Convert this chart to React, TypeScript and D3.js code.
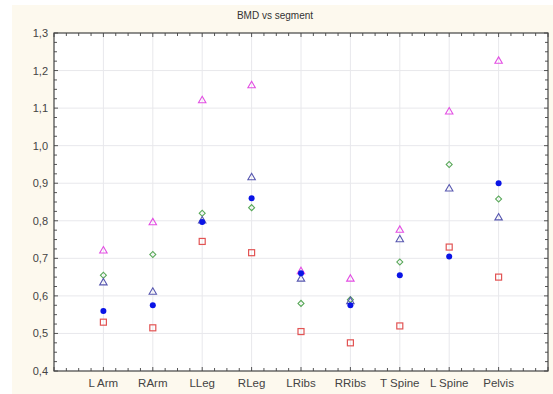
import React from "react";
import * as d3 from "d3";

const segments = ["L Arm", "RArm", "LLeg", "RLeg", "LRibs", "RRibs", "T Spine", "L Spine", "Pelvis"];
const magentaTri = [0.72, 0.795, 1.12, 1.16, 0.665, 0.645, 0.775, 1.09, 1.225];
const greenDiamond = [0.655, 0.71, 0.82, 0.835, 0.58, 0.59, 0.69, 0.95, 0.858];
const navyTri = [0.635, 0.61, 0.8, 0.915, 0.645, 0.585, 0.75, 0.885, 0.808];
const blueDot = [0.56, 0.575, 0.797, 0.86, 0.66, 0.575, 0.655, 0.705, 0.9];
const redSquare = [0.53, 0.515, 0.745, 0.715, 0.505, 0.475, 0.52, 0.73, 0.65];
const yTicks = [0.4, 0.5, 0.6, 0.7, 0.8, 0.9, 1.0, 1.1, 1.2, 1.3];

const W = 553, H = 394;
const left = 54, right = 548, top = 33, bottom = 371;

export default function App() {
  const x = d3.scaleLinear().domain([0, segments.length + 1]).range([left, right]);
  const y = d3.scaleLinear().domain([0.4, 1.3]).range([bottom, top]);
  const fmt = (v: number) => v.toFixed(1).replace(".", ",");

  const minorX = d3.range(0, (segments.length + 1) * 4 + 1).map((i) => i / 4);
  const minorY = d3.range(0, 37).map((i) => 0.4 + i * 0.025);

  const tri = d3.symbol().type(d3.symbolTriangle).size(24);
  // diamond drawn as a square turned 45 degrees
  const dia = d3.symbol().type(d3.symbolSquare).size(18);

  const series = [
    { vals: magentaTri, kind: "tri", color: "#e34fe3" },
    { vals: greenDiamond, kind: "dia", color: "#5aa95a" },
    { vals: navyTri, kind: "tri", color: "#5858b0" },
    { vals: redSquare, kind: "sq", color: "#e25454" },
    { vals: blueDot, kind: "dot", color: "#0a14e6" },
  ];

  return (
    <svg width={W} height={H} style={{ position: "absolute", left: 0, top: 0 }}>
      <rect x={0} y={0} width={W} height={H} fill="#ffffff" />
      <rect x={12} y={5} width={W - 12} height={H - 5} fill="#fdf9ee" />
      <text x={275} y={19} textAnchor="middle" fontFamily="Liberation Sans, Arial" fontSize={10} fill="#333">
        BMD vs segment
      </text>
      <rect x={left} y={top} width={right - left} height={bottom - top} fill="#ffffff" />
      {yTicks.slice(1, -1).map((t) => (
        <line key={"gy" + t} x1={left} x2={right} y1={y(t)} y2={y(t)} stroke="#e8e8ec" />
      ))}
      {segments.map((s, i) => (
        <line key={"gx" + s} x1={x(i + 1)} x2={x(i + 1)} y1={top} y2={bottom} stroke="#e8e8ec" />
      ))}
      {minorX.map((v) => {
        const len = v % 1 === 0 ? 4 : 3;
        return (
          <g key={"mx" + v}>
            <line x1={x(v)} x2={x(v)} y1={top} y2={top + len} stroke="#555" />
            <line x1={x(v)} x2={x(v)} y1={bottom} y2={bottom - len} stroke="#555" />
          </g>
        );
      })}
      {minorY.map((v, i) => {
        const len = i % 4 === 0 ? 4 : 3;
        return (
          <g key={"my" + i}>
            <line x1={left} x2={left + len} y1={y(v)} y2={y(v)} stroke="#555" />
            <line x1={right} x2={right - len} y1={y(v)} y2={y(v)} stroke="#555" />
          </g>
        );
      })}
      <rect x={left} y={top} width={right - left} height={bottom - top} fill="none" stroke="#444" strokeWidth={1.2} />
      {yTicks.map((t) => (
        <text key={"ty" + t} x={left - 6} y={y(t) + 4} textAnchor="end" fontFamily="Liberation Sans, Arial" fontSize={11} fill="#444">
          {fmt(t)}
        </text>
      ))}
      {segments.map((s, i) => (
        <text key={"tx" + s} x={x(i + 1)} y={387} textAnchor="middle" fontFamily="Liberation Sans, Arial" fontSize={11.5} fill="#444">
          {s}
        </text>
      ))}
      {series.map((sr, si) =>
        sr.vals.map((v, i) => {
          const cx = x(i + 1), cy = y(v);
          if (sr.kind === "dot")
            return <circle key={si + "-" + i} cx={cx} cy={cy} r={3} fill={sr.color} />;
          if (sr.kind === "sq")
            return <rect key={si + "-" + i} x={cx - 3} y={cy - 3} width={6} height={6} fill="none" stroke={sr.color} strokeWidth={1.2} />;
          const p = sr.kind === "tri" ? tri() : dia();
          const rot = sr.kind === "dia" ? " rotate(45)" : "";
          return (
            <path key={si + "-" + i} d={p || ""} transform={`translate(${cx},${cy})${rot}`} fill="none" stroke={sr.color} strokeWidth={1.1} />
          );
        })
      )}
    </svg>
  );
}
